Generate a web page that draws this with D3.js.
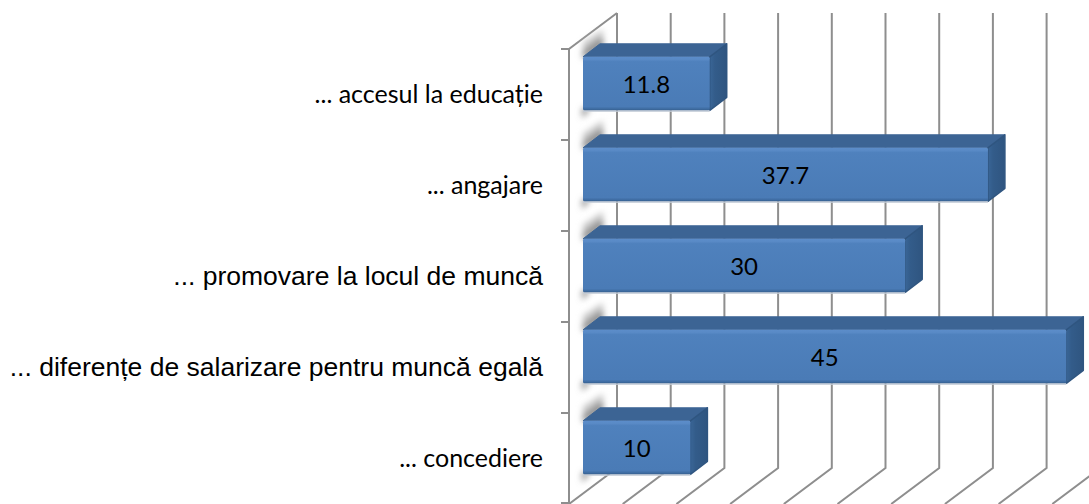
<!DOCTYPE html>
<html>
<head>
<meta charset="utf-8">
<script src="https://cdn.jsdelivr.net/npm/d3@7"></script>
<style>
  html, body { margin: 0; padding: 0; background: #fff; overflow: hidden; }
  svg { display: block; }
</style>
</head>
<body>
<div id="chart"></div>
<script>
const categories = [
  '... accesul la educație',
  '... angajare',
  '... promovare la locul de muncă',
  '... diferențe de salarizare pentru muncă egală',
  '... concediere',
];
const values = [11.8, 37.7, 30, 45, 10];
const valueTicks = [0, 5, 10, 15, 20, 25, 30, 35, 40, 45];
// the labels were set in two different fonts in the original
const labelFonts = ['calibri', 'calibri', 'arial', 'arial', 'calibri'];

const width = 1089;
const height = 504;

const origin = { x: 569, top: 49, bottom: 504 };
const wallDepth = { x: 48, y: 36 };
const barDepth = { x: 17, y: 13 };
const barInset = 14;
const barTopOffset = 7.8;
const barHeight = 53.5;
const labelX = 543;

const svg = d3.select('#chart')
  .append('svg')
  .attr('width', width)
  .attr('height', height);

const x = d3.scaleLinear().domain([0, 45]).range([0, 483.3]);
const y = d3.scaleBand().domain(categories).range([origin.top, origin.bottom]);

const defs = svg.append('defs');

const frontGrad = defs.append('linearGradient')
  .attr('id', 'barFront').attr('x1', 0).attr('x2', 0).attr('y1', 0).attr('y2', 1);
[[0, '#5c8dca'], [0.05, '#598ac6'], [0.09, '#4f81bd'], [0.93, '#4a7bb6'], [0.97, '#3f6da3'], [1, '#36608f']]
  .forEach((s) => frontGrad.append('stop').attr('offset', s[0]).attr('stop-color', s[1]));

const sideGrad = defs.append('linearGradient')
  .attr('id', 'barSide').attr('x1', 0).attr('x2', 1).attr('y1', 0).attr('y2', 0);
[[0, '#3a6697'], [0.3, '#335c8a'], [1, '#2f5580']]
  .forEach((s) => sideGrad.append('stop').attr('offset', s[0]).attr('stop-color', s[1]));

defs.append('filter').attr('id', 'softShadow')
  .attr('x', '-50%').attr('y', '-50%').attr('width', '200%').attr('height', '200%')
  .append('feGaussianBlur').attr('stdDeviation', 3);

const poly = d3.line().curve(d3.curveLinearClosed);
const open = d3.line();

/**
 * Walls and grid
 */
const grid = svg.append('g')
  .attr('fill', 'none')
  .attr('stroke', '#8e8e8e')
  .attr('stroke-width', 2);

grid.selectAll('path.grid')
  .data(valueTicks)
  .join('path')
  .attr('class', 'grid')
  .attr('d', (d) => {
    const front = origin.x + x(d);
    return open([
      [front + wallDepth.x, origin.top - wallDepth.y],
      [front + wallDepth.x, origin.bottom - wallDepth.y],
      [front, origin.bottom],
    ]);
  });

// left wall
grid.append('path')
  .attr('d', open([
    [origin.x + wallDepth.x, origin.top - wallDepth.y],
    [origin.x, origin.top],
    [origin.x, origin.bottom],
  ]));

// category ticks
const tickRows = categories.map((d) => y(d)).concat(origin.bottom - 1);
grid.selectAll('line.tick')
  .data(tickRows)
  .join('line')
  .attr('class', 'tick')
  .attr('x1', origin.x - 8)
  .attr('x2', origin.x)
  .attr('y1', (d) => d)
  .attr('y2', (d) => d);

/**
 * Bars
 */
const barTop = (d) => y(d) + barTopOffset;
const barLeft = origin.x + barInset;

// shadow the bars throw on the left wall
const shadows = svg.append('g').attr('filter', 'url(#softShadow)');

shadows.selectAll('path.wide')
  .data(categories)
  .join('path')
  .attr('class', 'wide')
  .attr('fill', '#c4c4c4')
  .attr('d', (d) => {
    const t = barTop(d);
    return poly([
      [barLeft - 1, t + 2],
      [barLeft + 20, t - 14],
      [barLeft + 20, t - 27],
      [barLeft, t - 14],
    ]);
  });

shadows.selectAll('path.core')
  .data(categories)
  .join('path')
  .attr('class', 'core')
  .attr('fill', '#6c6c6c')
  .attr('d', (d) => {
    const t = barTop(d);
    return poly([
      [barLeft, t + 2],
      [barLeft + 20, t - 12],
      [barLeft + 20, t - 19],
      [barLeft + 1, t - 5],
    ]);
  });

shadows.selectAll('path.below')
  .data(categories)
  .join('path')
  .attr('class', 'below')
  .attr('fill', '#8a8a8a')
  .attr('d', (d) => {
    const b = barTop(d) + barHeight;
    return poly([
      [barLeft - 1, b - 2],
      [barLeft + 8, b - 2],
      [barLeft - 1, b + 8],
    ]);
  });

const bars = svg.append('g')
  .selectAll('g')
  .data(categories)
  .join('g');

bars.append('path')
  .attr('fill', '#3c6494')
  .attr('stroke', '#3c6494')
  .attr('stroke-linejoin', 'round')
  .attr('d', (d, i) => {
    const t = barTop(d);
    const r = barLeft + x(values[i]);
    return poly([
      [barLeft, t],
      [barLeft + barDepth.x, t - barDepth.y],
      [r + barDepth.x, t - barDepth.y],
      [r, t],
    ]);
  });

bars.append('path')
  .attr('fill', 'url(#barSide)')
  .attr('stroke', '#2f5580')
  .attr('stroke-width', 1.5)
  .attr('stroke-linejoin', 'round')
  .attr('d', (d, i) => {
    const t = barTop(d);
    const r = barLeft + x(values[i]);
    return poly([
      [r, t],
      [r + barDepth.x, t - barDepth.y],
      [r + barDepth.x, t + barHeight - barDepth.y],
      [r, t + barHeight],
    ]);
  });

// pale line under each bar
bars.append('rect')
  .attr('x', barLeft)
  .attr('y', (d) => barTop(d) + barHeight)
  .attr('width', (d, i) => x(values[i]))
  .attr('height', 1.5)
  .attr('fill', '#c3cbd6');

bars.append('rect')
  .attr('x', barLeft)
  .attr('y', (d) => barTop(d))
  .attr('width', (d, i) => x(values[i]))
  .attr('height', barHeight)
  .attr('rx', 1.5)
  .attr('fill', 'url(#barFront)');

bars.append('text')
  .attr('x', (d, i) => barLeft + x(values[i]) / 2)
  .attr('y', (d) => barTop(d) + barHeight / 2 + 9.5)
  .attr('text-anchor', 'middle')
  .attr('font-family', 'Lato, sans-serif')
  .attr('font-size', 24)
  .attr('fill', '#000')
  .text((d, i) => values[i]);

/**
 * Category labels
 */
svg.append('g')
  .selectAll('text')
  .data(categories)
  .join('text')
  .attr('x', labelX)
  .attr('y', (d, i) => y(d) + 54 + (i === 4 ? 0.4 : 0))
  .attr('text-anchor', 'end')
  .attr('fill', '#000')
  .attr('font-family', (d, i) => (labelFonts[i] === 'arial' ? '"Liberation Sans", sans-serif' : 'Lato, sans-serif'))
  .attr('font-size', (d, i) => (labelFonts[i] === 'arial' ? 26.5 : 25))
  .text((d) => d);
</script>
</body>
</html>
